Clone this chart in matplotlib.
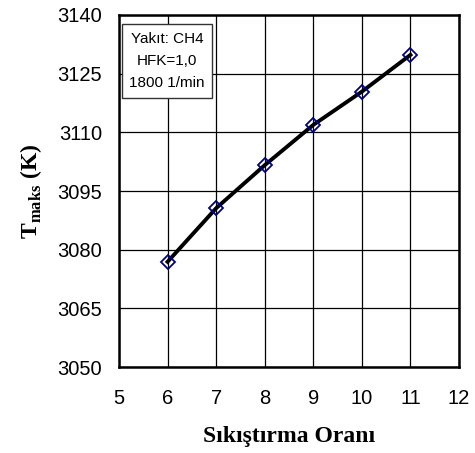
import matplotlib.pyplot as plt

plt.rcParams['mathtext.fontset'] = 'custom'
plt.rcParams['mathtext.rm'] = 'Liberation Serif:bold'
plt.rcParams['mathtext.bf'] = 'Liberation Serif:bold'

# data
oran = [6, 7, 8, 9, 10, 11]
t_maks = [3076.9, 3090.6, 3101.6, 3111.9, 3120.4, 3129.8]
x_ticks = [5, 6, 7, 8, 9, 10, 11, 12]
y_ticks = [3050, 3065, 3080, 3095, 3110, 3125, 3140]
info_lines = ["Yakıt: CH4", "HFK=1,0", "1800 1/min"]

fig = plt.figure(figsize=(4.75, 4.53), dpi=100)
ax = fig.add_axes([0.2505, 0.1898, 0.7158, 0.7771])

ax.plot(oran, t_maks, color="black", lw=2.8, zorder=3)
ax.plot(oran, t_maks, ls="none", marker="D", ms=7, mfc="none",
        mec="#000080", mew=1.3, zorder=4)

ax.set_xlim(5, 12)
ax.set_ylim(3050, 3140)
ax.set_xticks(x_ticks)
ax.set_yticks(y_ticks)
ax.grid(True, color="black", lw=0.9)
ax.set_axisbelow(True)
ax.tick_params(length=0, labelsize=14.5)
ax.tick_params(axis="y", pad=12)
ax.tick_params(axis="x", pad=16)
for lab in ax.get_xticklabels() + ax.get_yticklabels():
    lab.set_fontfamily("Liberation Sans")
for sp in ax.spines.values():
    sp.set_linewidth(1.8)

ax.set_xlabel("Sıkıştırma Oranı", fontfamily="Liberation Serif",
              fontweight="bold", fontsize=17, labelpad=13)
ax.set_ylabel(r"$\mathrm{T}_{\mathrm{maks}}$ (K)", fontfamily="Liberation Serif",
              fontweight="bold", fontsize=17, labelpad=10)

ax.text(0.141, 0.869, "\n".join(info_lines), transform=ax.transAxes,
        ha="center", va="center", fontsize=11, fontfamily="Liberation Sans",
        linespacing=1.75,
        bbox=dict(boxstyle="square,pad=0.5", fc="white", ec="#333333", lw=1))

fig.savefig("out.png", dpi=100)
